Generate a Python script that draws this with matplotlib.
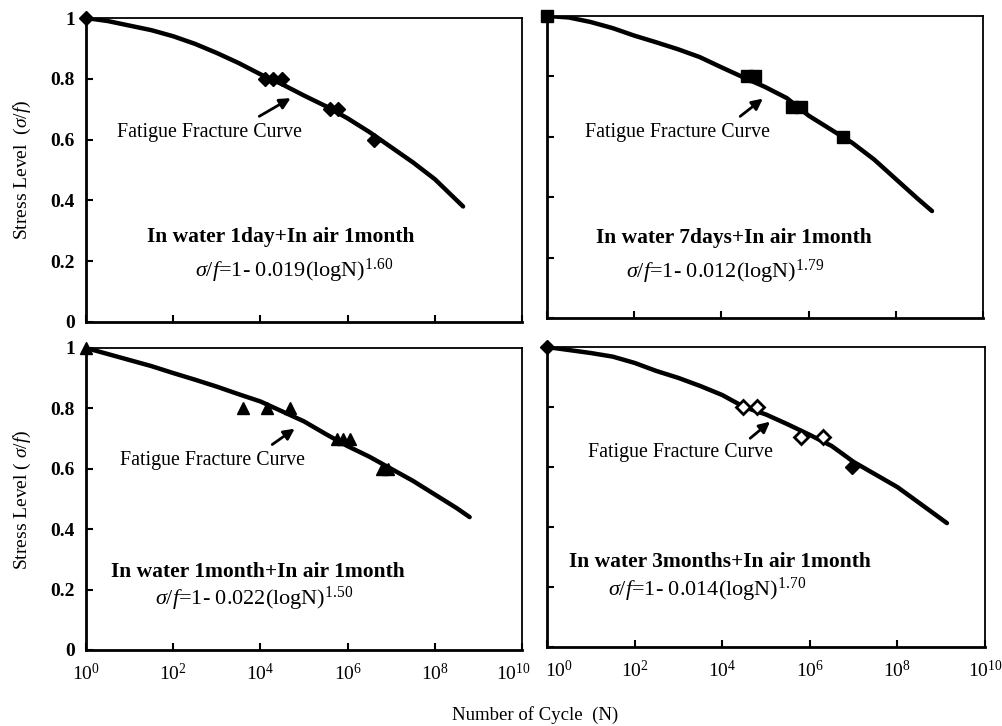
import numpy as np
import matplotlib
matplotlib.use("Agg")
import matplotlib.pyplot as plt
from matplotlib.transforms import ScaledTranslation

plt.rcParams['font.family'] = ['Liberation Serif', 'DejaVu Serif']
plt.rcParams['mathtext.fontset'] = 'custom'
plt.rcParams['mathtext.rm'] = 'Liberation Serif'
plt.rcParams['mathtext.it'] = 'Liberation Serif:italic'
plt.rcParams['mathtext.bf'] = 'Liberation Serif:bold'

# --- data (x = log10 N) ---
# panel 1: in water 1 day
curve1_x = [0, 0.5, 1, 1.5, 2, 2.5, 3, 3.5, 4, 4.5, 5, 5.5, 6, 6.5, 7, 7.5, 8, 8.65]
curve1_y = [1.0, 0.99, 0.975, 0.96, 0.94, 0.915, 0.885, 0.852, 0.815, 0.782, 0.745,
            0.71, 0.67, 0.625, 0.575, 0.525, 0.47, 0.38]
pts1_x = [0, 4.1, 4.3, 4.5, 5.6, 5.78, 6.6]
pts1_y = [1.0, 0.8, 0.8, 0.8, 0.7, 0.7, 0.6]

# panel 2: in water 7 days
curve2_x = [0, 0.5, 1, 1.5, 2, 2.5, 3, 3.5, 4, 4.5, 5, 5.5, 6, 6.5, 7, 7.5, 8, 8.5, 8.83]
curve2_y = [1.0, 0.995, 0.98, 0.96, 0.935, 0.913, 0.89, 0.864, 0.83, 0.797, 0.765,
            0.728, 0.67, 0.625, 0.58, 0.525, 0.46, 0.395, 0.354]
pts2_x = [0, 4.58, 4.78, 5.62, 5.82, 6.78]
pts2_y = [1.0, 0.8, 0.8, 0.7, 0.7, 0.6]

# panel 3: in water 1 month
curve3_x = [0, 0.5, 1, 1.5, 2, 2.5, 3, 3.5, 4, 4.5, 5, 5.5, 6, 6.5, 7, 7.5, 8, 8.5, 8.8]
curve3_y = [1.0, 0.98, 0.96, 0.94, 0.917, 0.895, 0.872, 0.847, 0.823, 0.79, 0.757,
            0.715, 0.675, 0.64, 0.6, 0.56, 0.515, 0.47, 0.44]
pts3_x = [0, 3.6, 4.15, 4.68, 5.76, 5.9, 6.05, 6.8, 6.92]
pts3_y = [1.0, 0.8, 0.8, 0.8, 0.7, 0.7, 0.7, 0.6, 0.6]

# panel 4: in water 3 months
curve4_x = [0, 0.5, 1, 1.5, 2, 2.5, 3, 3.5, 4, 4.5, 5, 5.5, 6, 6.5, 7, 7.5, 8, 8.5, 9.13]
curve4_y = [1.0, 0.99, 0.98, 0.968, 0.947, 0.92, 0.897, 0.87, 0.84, 0.80, 0.775,
            0.742, 0.707, 0.67, 0.617, 0.575, 0.533, 0.48, 0.413]
pts4_open_x = [4.47, 4.79, 5.8, 6.3]
pts4_open_y = [0.8, 0.8, 0.7, 0.7]
pts4_fill_x = [0, 6.96]
pts4_fill_y = [1.0, 0.6]

labels = ["In water 1day+In air 1month", "In water 7days+In air 1month",
          "In water 1month+In air 1month", "In water 3months+In air 1month"]
coefs = ["0.019", "0.012", "0.022", "0.014"]
expos = ["1.60", "1.79", "1.50", "1.70"]

y_ticks = [0, 0.2, 0.4, 0.6, 0.8, 1.0]
y_ticklabels = ["0", "0.2", "0.4", "0.6", "0.8", "1"]
x_decades = [0, 2, 4, 6, 8, 10]

fig = plt.figure(figsize=(10.03, 7.26), dpi=100)
boxes = [(0.0857, 0.5565, 0.4347, 0.4187), (0.5454, 0.5620, 0.4347, 0.4160),
         (0.0857, 0.1047, 0.4347, 0.4160), (0.5454, 0.1088, 0.4367, 0.4132)]
axes = [fig.add_axes(b) for b in boxes]

curves = [(curve1_x, curve1_y), (curve2_x, curve2_y), (curve3_x, curve3_y), (curve4_x, curve4_y)]
for ax, (cx, cy) in zip(axes, curves):
    ax.plot(10 ** np.array(cx), cy, color="black", lw=3.2, solid_capstyle="round",
            solid_joinstyle="round", zorder=3)

axes[0].plot(10 ** np.array(pts1_x), pts1_y, "D", color="black", ms=7.5, clip_on=False, zorder=4)
axes[1].plot(10 ** np.array(pts2_x), pts2_y, "s", color="black", ms=9, clip_on=False, zorder=4)
axes[2].plot(10 ** np.array(pts3_x), pts3_y, "^", color="black", ms=9, clip_on=False, zorder=4)
axes[3].plot(10 ** np.array(pts4_open_x), pts4_open_y, "D", mfc="white", mec="black", mew=2,
             ms=7, clip_on=False, zorder=4)
axes[3].plot(10 ** np.array(pts4_fill_x), pts4_fill_y, "D", color="black", ms=7.5, clip_on=False, zorder=4)

# text positions (axes fraction) and arrows (log10 N, stress)
text_pos = [(0.071, 0.623), (0.087, 0.613), (0.078, 0.626), (0.094, 0.65)]
arrows = [((3.92, 0.672), (4.75, 0.741)), ((4.38, 0.662), (5.0, 0.732)),
          ((4.22, 0.675), (4.84, 0.738)), ((4.59, 0.69), (5.14, 0.757))]
label_pos = [(0.447, 0.279), (0.429, 0.265), (0.395, 0.258), (0.394, 0.283)]
formula_pos = [(0.477, 0.167), (0.408, 0.152), (0.385, 0.169), (0.366, 0.19)]

for i, ax in enumerate(axes):
    ax.set_xscale("log")
    ax.set_xlim(1, 1e10)
    ax.set_ylim(0, 1)
    ax.set_xticks([10.0 ** d for d in x_decades])
    ax.minorticks_off()
    ax.set_yticks(y_ticks)
    ax.tick_params(direction="in", length=5, width=1.5, top=False, right=False)
    for s in ["left", "bottom"]:
        ax.spines[s].set_linewidth(2)
    for s in ["top", "right"]:
        ax.spines[s].set_linewidth(1.3)
    if i >= 2:
        ax.set_xticklabels([r"$\mathregular{10^{%d}}$" % d for d in x_decades], fontsize=14)
        ax.tick_params(axis="x", pad=9)
    else:
        ax.set_xticklabels([])
    if i % 2 == 0:
        ax.set_yticklabels(y_ticklabels, fontsize=14, fontweight="bold")
        ax.tick_params(axis="y", pad=8)
    else:
        ax.set_yticklabels([])

    ax.text(*text_pos[i], "Fatigue Fracture Curve", transform=ax.transAxes,
            fontsize=14.3, ha="left", va="center")
    (tx, ty), (hx, hy) = arrows[i]
    ax.annotate("", xy=(10 ** hx, hy), xytext=(10 ** tx, ty),
                arrowprops=dict(arrowstyle="-|>", color="black", lw=2, mutation_scale=16))
    ax.text(*label_pos[i], labels[i], transform=ax.transAxes, fontsize=15.5,
            fontweight="bold", ha="center", va="center")
    ax.text(*formula_pos[i], r"$\sigma/f$=1- %s(logN)$^{%s}$" % (coefs[i], expos[i]),
            transform=ax.transAxes, fontsize=16, ha="center", va="center")

# nudge the two touching labels at the middle of the bottom row apart
fig.canvas.draw()
axes[2].get_xticklabels()[-1].set_transform(
    axes[2].get_xticklabels()[-1].get_transform() + ScaledTranslation(-0.09, 0, fig.dpi_scale_trans))
axes[3].get_xticklabels()[0].set_transform(
    axes[3].get_xticklabels()[0].get_transform() + ScaledTranslation(0.12, 0, fig.dpi_scale_trans))

fig.text(22 / 1003, 1 - 170 / 726, r"Stress Level  ($\sigma/f$)", rotation=90,
         fontsize=14, ha="center", va="center")
fig.text(22 / 1003, 1 - 500 / 726, r"Stress Level ( $\sigma/f$)", rotation=90,
         fontsize=14, ha="center", va="center")
fig.text(535 / 1003, 1 - 715 / 726, "Number of Cycle  (N)", fontsize=13.5,
         ha="center", va="center")

fig.savefig("out.png", dpi=100)
